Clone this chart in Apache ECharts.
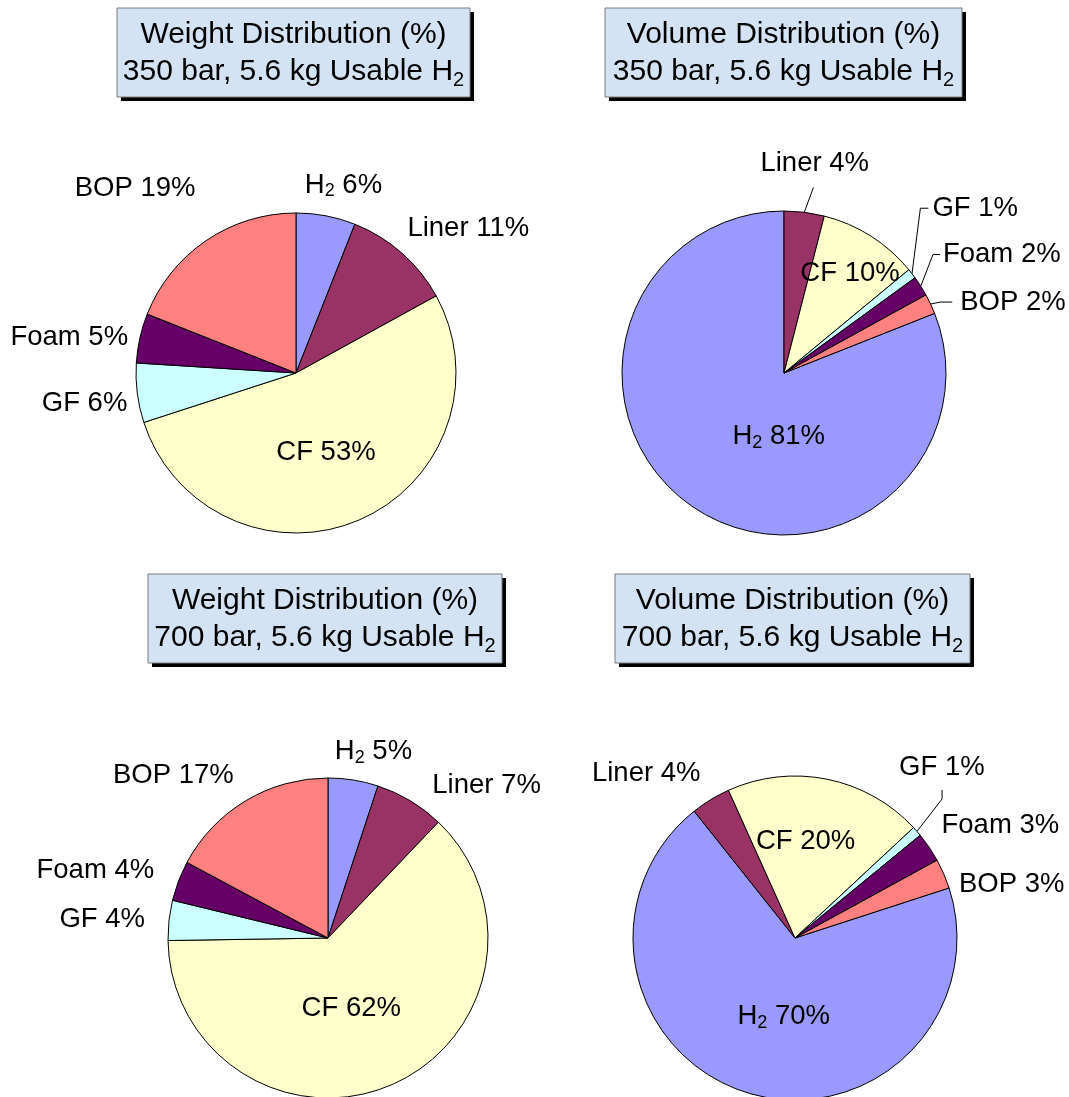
<!DOCTYPE html>
<html>
<head>
<meta charset="utf-8">
<script src="https://cdn.jsdelivr.net/npm/echarts@6/dist/echarts.min.js"></script>
<style>
  html, body { margin: 0; padding: 0; background: #fff; }
  #main { width: 1069px; height: 1097px; }
</style>
</head>
<body>
<div id="main"></div>
<script>
// components, clockwise order used in every pie
const parts = ['H2', 'Liner', 'CF', 'GF', 'Foam', 'BOP']
// percentages
const weight350 = [6, 11, 53, 6, 5, 19]
const volume350 = [81, 4, 10, 1, 2, 2]
const weight700 = [5, 7, 62, 4, 4, 17]
const volume700 = [70, 4, 20, 1, 3, 3]
// titles
const titleLine1 = ['Weight Distribution (%)', 'Volume Distribution (%)', 'Weight Distribution (%)', 'Volume Distribution (%)']
const titleLine2 = ['350 bar, 5.6 kg Usable H', '350 bar, 5.6 kg Usable H', '700 bar, 5.6 kg Usable H', '700 bar, 5.6 kg Usable H']

const colors = ['#9999FF', '#993366', '#FFFFCC', '#CCFFFF', '#660066', '#FF8080']
const font = 'Liberation Sans, Arial, sans-serif'

// 图表布局 (center, radius, start angle, labels inside, leader line lengths)
const pies = [
  {values: weight350, center: [296, 373], r: 160, start: 90, inside: ['CF'], lined: {}},
  {values: volume350, center: [784, 373], r: 162, start: 21.6, inside: ['CF', 'H2'], lined: {Liner: [25, 0], GF: [22, 8], Foam: [18, 7], BOP: [14, 12]}},
  {values: weight700, center: [328, 938], r: 160, start: 90, inside: ['CF'], lined: {}},
  {values: volume700, center: [795, 938], r: 162, start: 18, inside: ['CF', 'H2'], lined: {GF: [40, 0]}}
]
// 标签微调 dx/dy, per series, per part
const nudges = [
  [[-27, -21], [-5, -17], [-3, 3], [4, 9], [2, 2], [-1, -44]],
  [[42, -6], [-51, -24], [21, -29], [-9, -52], [-4, -22], [1, 4]],
  [[-24, -19], [13, -7], [-10, -6], [-10, 0], [-11, -7], [-3, -17]],
  [[13, -2], [-1, -18], [-6, -14], [-52, -38], [0, -16], [2, 15]]
]
// leader line bends: move elbow by [dx, dy], then the end by [dx, dy] from the elbow
const bends = [
  {},
  {1: [6, 0, 0, 0], 3: [-9, -52, 8, 0], 4: [-3, -22, 7, 0], 5: [-3, 4, 12, 0]},
  {},
  {3: [-5, -6, 0, -9]}
]
// title boxes: left, top, width, height
const boxes = [[117, 8, 353, 89], [605, 8, 357, 89], [148, 574, 354, 89], [615, 574, 355, 89]]

const rich = {
  a: {fontSize: 27.5, fontFamily: font, color: '#000', lineHeight: 31},
  s: {fontSize: 18, fontFamily: font, color: '#000', lineHeight: 12, verticalAlign: 'bottom'}
}

function labelText (name, v) {
  if (name === 'H2') return '{a|H}{s|2}{a| ' + v + '%}'
  return '{a|' + name + ' ' + v + '%}'
}

let chart = echarts.init(document.getElementById('main'), null, {renderer: 'canvas'})

let graphics = []
boxes.forEach((b, i) => {
  graphics.push({
    type: 'rect', silent: true,
    shape: {x: b[0] + 4, y: b[1] + 4, width: b[2], height: b[3]},
    style: {fill: '#000'}
  })
  graphics.push({
    type: 'rect', silent: true,
    shape: {x: b[0], y: b[1], width: b[2], height: b[3]},
    style: {fill: '#D3E3F4', stroke: '#7A7A7A', lineWidth: 1}
  })
  graphics.push({
    type: 'text', silent: true,
    x: b[0] + b[2] / 2,
    y: b[1] + b[3] / 2 + 1,
    style: {
      text: '{t|' + titleLine1[i] + '}\n{t|' + titleLine2[i] + '}{u|2}',
      align: 'center',
      verticalAlign: 'middle',
      rich: {
        t: {fontSize: 30, fontFamily: font, fill: '#000', lineHeight: 37},
        u: {fontSize: 20, fontFamily: font, fill: '#000', lineHeight: 14, verticalAlign: 'bottom'}
      }
    }
  })
})

let series = pies.map((p, si) => ({
  type: 'pie',
  center: p.center,
  radius: p.r,
  startAngle: p.start,
  clockwise: true,
  animation: false,
  avoidLabelOverlap: false,
  itemStyle: {borderColor: '#000', borderWidth: 1},
  labelLine: {show: false, length: 10, length2: 0, lineStyle: {color: '#000', width: 1}},
  label: {show: true, position: 'outside', distanceToLabelLine: 4, overflow: 'none', rich: rich},
  labelLayout: function (params) {
    let n = nudges[si][params.dataIndex]
    let out = {dx: n[0], dy: n[1]}
    let bend = bends[si][params.dataIndex]
    let pts = params.labelLinePoints
    if (bend && pts) {
      let elbow = [pts[1][0] + bend[0], pts[1][1] + bend[1]]
      let end = [elbow[0] + bend[2], elbow[1] + bend[3]]
      out.labelLinePoints = [pts[0], elbow, end]
    }
    return out
  },
  data: parts.map((name, i) => {
    let item = {
      name: name,
      value: p.values[i],
      itemStyle: {color: colors[i]},
      label: {formatter: labelText(name, p.values[i])}
    }
    if (p.inside.indexOf(name) >= 0) {
      item.label.position = 'inside'
    }
    if (p.lined[name] != null) {
      item.labelLine = {show: true, length: p.lined[name][0], length2: p.lined[name][1]}
    }
    return item
  })
}))

chart.setOption({
  backgroundColor: '#fff',
  graphic: graphics,
  series: series
})
</script>
</body>
</html>
